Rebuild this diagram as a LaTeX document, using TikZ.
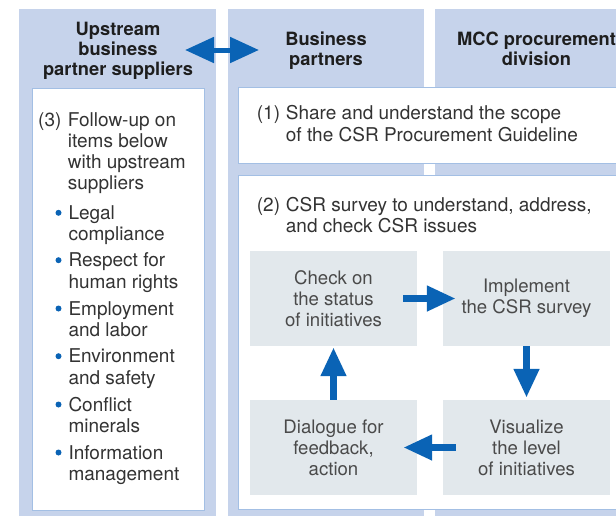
\documentclass[tikz,border=0pt]{standalone}
\usepackage{fontspec}
\setmainfont{TeX Gyre Heros}
\usetikzlibrary{arrows.meta}
\definecolor{colbg}{HTML}{C6D3EB}
\definecolor{boxline}{HTML}{A3BFE4}
\definecolor{greybg}{HTML}{E2E8EC}
\definecolor{arrowblue}{HTML}{0A63B5}
\definecolor{bodytext}{HTML}{333333}
\definecolor{greytext}{HTML}{4A4A4A}
\definecolor{headtext}{HTML}{1E1E1E}
\begin{document}
\begin{tikzpicture}[x=1pt,y=-1pt,
  colbox/.style={fill=colbg,draw=none},
  wbox/.style={fill=white,draw=boxline,line width=0.9pt,anchor=north west,inner sep=0},
  gbox/.style={fill=greybg,draw=none,minimum width=167pt,minimum height=95pt,align=center,
    font=\fontsize{18.6}{21}\selectfont,text=greytext,inner sep=0},
  hd/.style={font=\fontsize{18.3}{20.2}\bfseries\selectfont,text=headtext,align=center,inner sep=0,anchor=north},
  bodyf/.style={font=\fontsize{19}{21.2}\selectfont,text=bodytext,inner sep=0,anchor=north west,align=left},
  bul/.style={circle,fill=arrowblue,inner sep=0,minimum size=6pt},
  blk/.style={draw=arrowblue,line width=7.5pt,-{Triangle[length=29pt,width=24pt]}},
  dblk/.style={draw=arrowblue,line width=5pt,{Triangle[length=29pt,width=25pt]}-{Triangle[length=29pt,width=25pt]}},
]
\useasboundingbox (0,0) rectangle (616,515);
\clip (0,0) rectangle (616,515);
\fill[white] (0,0) rectangle (616,515);
% columns
\path[colbox] (19,9) rectangle (216,520);
\path[colbox] (228,9) rectangle (424,520);
\path[colbox] (435,9) rectangle (640,520);
% headers
\node[hd] (h1) at (118,20.8) {\strut Upstream\\business\\partner suppliers};
\node[hd] (h2) at (326,30.8) {\strut Business\\partners};
\node[hd] (h3) at (536.5,30.8) {\strut MCC procurement\\division};
\coordinate (dl) at (185,50);
\coordinate (dr) at (259,50);
\draw[dblk] (dl) -- (dr);
% white boxes
\node[wbox,minimum width=172pt,minimum height=422pt] (left) at (32,88) {};
\node[wbox,minimum width=400pt,minimum height=76pt] (b1) at (238,87) {};
\node[wbox,minimum width=400pt,minimum height=334pt] (b2) at (238,175) {};
% left text
\node[bodyf] (n3) at (38,111) {\strut(3)};
\node[bodyf] (t3) at (67.7,111) {\strut Follow-up on\\items below\\with upstream\\suppliers};
\foreach \i/\yb/\txt in {1/219.3/{Legal\\compliance},2/266.7/{Respect for\\human rights},3/315/{Employment\\and labor},4/362.7/{Environment\\and safety},5/411/{Conflict\\minerals},6/459/{Information\\management}}{
  \node[bul] (bu\i) at (58.5,\yb-6.5) {};
  \node[bodyf] (it\i) at (68.3,\yb-14.8) {\strut\txt};
}
% box 1 & 2 text
\node[bodyf] (n1) at (256.7,104.8) {\strut(1)};
\node[bodyf] (t1) at (285.7,104.8) {\strut Share and understand the scope\\of the CSR Procurement Guideline};
\node[bodyf] (n2) at (256.7,196.3) {\strut(2)};
\node[bodyf] (t2) at (285.7,196.3) {\strut CSR survey to understand, address,\\and check CSR issues};
% grey boxes
\node[gbox] (check) at (333.5,298.5) {Check on\\the status\\of initiatives};
\node[gbox] (impl) at (526.5,298.5) {Implement\\the CSR survey};
\node[gbox] (dial) at (333.5,447.5) {Dialogue for\\feedback,\\action};
\node[gbox] (vis) at (526.5,447.5) {Visualize\\the level\\of initiatives};
% arrows
\draw[blk] ([xshift=-14pt]check.east) -- ([xshift=13pt]impl.west);
\draw[blk] (impl.south) -- ([yshift=2pt]vis.north);
\draw[blk] ([xshift=13pt]vis.west) -- ([xshift=-14pt]dial.east);
\draw[blk] (dial.north) -- ([yshift=-1pt]check.south);
\end{tikzpicture}
\end{document}
